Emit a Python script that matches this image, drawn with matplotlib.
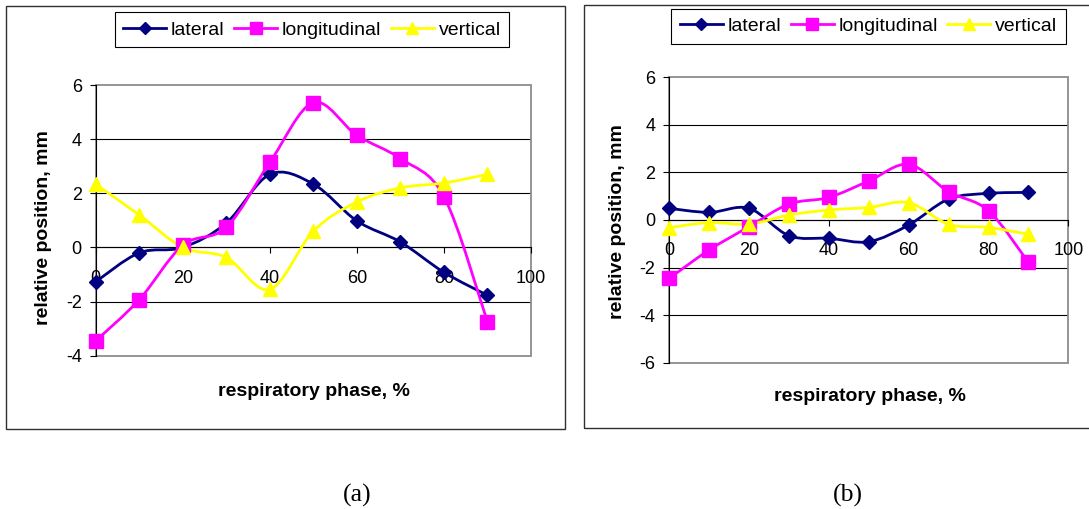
import numpy as np
import matplotlib.pyplot as plt
from matplotlib.path import Path
from matplotlib.patches import PathPatch, Rectangle
from matplotlib.lines import Line2D

plt.rcParams['font.family'] = ['Liberation Sans', 'DejaVu Sans']
plt.rcParams['axes.unicode_minus'] = False

# fases respiratorias (%)
fase = [0, 10, 20, 30, 40, 50, 60, 70, 80, 90]

# panel (a)
a_lateral = [-1.27, -0.2, 0.0, 0.9, 2.7, 2.34, 0.98, 0.2, -0.92, -1.77]
a_longitudinal = [-3.45, -1.93, 0.08, 0.74, 3.14, 5.35, 4.14, 3.28, 1.88, -2.75]
a_vertical = [2.33, 1.2, 0.0, -0.37, -1.55, 0.6, 1.68, 2.2, 2.38, 2.7]

# panel (b)
b_lateral = [0.49, 0.32, 0.49, -0.66, -0.77, -0.91, -0.21, 0.88, 1.12, 1.16]
b_longitudinal = [-2.45, -1.26, -0.28, 0.67, 0.95, 1.64, 2.34, 1.19, 0.39, -1.78]
b_vertical = [-0.32, -0.11, -0.17, 0.21, 0.42, 0.53, 0.73, -0.18, -0.31, -0.6]

nombres = ['lateral', 'longitudinal', 'vertical']
colores = ['#000080', '#FF00FF', '#FFFF00']
marcadores = ['D', 's', '^']
tam_marcador = [7.2, 10, 10]

W, H = 1089, 509


def curva_suave(x, y):
    # curva tipo Excel (Catmull-Rom pasada a Bezier)
    pts = np.column_stack([x, y]).astype(float)
    n = len(pts)
    verts = [pts[0]]
    codes = [Path.MOVETO]
    for i in range(n - 1):
        p0 = pts[i - 1] if i > 0 else pts[i]
        p1 = pts[i]
        p2 = pts[i + 1]
        p3 = pts[i + 2] if i + 2 < n else pts[i + 1]
        verts += [p1 + (p2 - p0) / 6, p2 - (p3 - p1) / 6, p2]
        codes += [Path.CURVE4] * 3
    return Path(verts, codes)


def px_rect(x0, y0, x1, y1):
    # caja en pixeles -> fraccion de figura
    return [x0 / W, 1 - y1 / H, (x1 - x0) / W, (y1 - y0) / H]


fig = plt.figure(figsize=(W / 100, H / 100), dpi=100)

# marcos exteriores de cada panel
for x0, y0, x1, y1 in [(6, 6, 565, 429), (584, 5, 1100, 428)]:
    fig.add_artist(Rectangle((x0 / W, 1 - y1 / H), (x1 - x0) / W, (y1 - y0) / H,
                             transform=fig.transFigure, fill=False,
                             edgecolor='#303030', lw=1.0))

paneles = [
    dict(caja=(95.7, 85, 531, 355.7), ylim=(-4, 6), series=[a_lateral, a_longitudinal, a_vertical],
         ley=(312, 29.7), ylab=(-0.121, 0.475), xlab=(0.501, -0.133), cap='(a)', capx=356.7),
    dict(caja=(669.3, 77.3, 1068.3, 362.7), ylim=(-6, 6), series=[b_lateral, b_longitudinal, b_vertical],
         ley=(868.5, 26.3), ylab=(-0.129, 0.494), xlab=(0.504, -0.119), cap='(b)', capx=848),
]

for p in paneles:
    ax = fig.add_axes(px_rect(*p['caja']))
    ax.set_xlim(0, 100)
    ax.set_ylim(*p['ylim'])
    ax.set_xticks(range(0, 101, 20))
    ax.set_yticks(range(p['ylim'][0], p['ylim'][1] + 1, 2))

    # lineas de rejilla negras (sin los bordes)
    for yv in range(p['ylim'][0] + 2, p['ylim'][1], 2):
        ax.axhline(yv, color='black', lw=0.8, zorder=1)

    # borde gris del area de trazado
    ax.add_patch(Rectangle((0, 0), 1, 1, transform=ax.transAxes, fill=False,
                           edgecolor='#8c8c8c', lw=1.3, clip_on=False, zorder=1))
    for s in ['top', 'right']:
        ax.spines[s].set_visible(False)
    ax.spines['bottom'].set_position(('data', 0))
    ax.spines['bottom'].set_color('black')
    ax.spines['bottom'].set_linewidth(0.8)
    ax.spines['left'].set_color('black')
    ax.spines['left'].set_linewidth(0.8)

    ax.tick_params(axis='x', direction='out', length=4, width=0.8, pad=12, labelsize=13)
    ax.tick_params(axis='y', direction='out', length=4, width=0.8, pad=6, labelsize=13)

    for serie, col, mk, ms in zip(p['series'], colores, marcadores, tam_marcador):
        ax.add_patch(PathPatch(curva_suave(fase, serie), fill=False, edgecolor=col,
                               lw=2, zorder=3, clip_on=False))
        ax.plot(fase, serie, linestyle='none', marker=mk, markersize=ms, color=col,
                markeredgecolor=col, zorder=4, clip_on=False)

    ax.text(p['ylab'][0], p['ylab'][1], 'relative position, mm', transform=ax.transAxes,
            rotation=90, ha='center', va='center', fontsize=14, fontweight='bold')
    ax.text(p['xlab'][0], p['xlab'][1], 'respiratory phase, %', transform=ax.transAxes,
            ha='center', va='center', fontsize=14, fontweight='bold')

    manejadores = [Line2D([], [], color=c, marker=m, markersize=s * 0.85, lw=2,
                          markeredgecolor=c) for c, m, s in zip(colores, marcadores, tam_marcador)]
    ley = fig.legend(manejadores, nombres, loc='center', ncol=3,
                     bbox_to_anchor=(p['ley'][0] / W, 1 - p['ley'][1] / H),
                     fontsize=14, frameon=True, fancybox=False, framealpha=1,
                     edgecolor='black', handlelength=2.2, handletextpad=0.25,
                     columnspacing=0.5, borderpad=0.45, numpoints=1,
                     borderaxespad=0)
    ley.get_frame().set_linewidth(0.8)

    fig.text(p['capx'] / W, 1 - 495 / H, p['cap'], ha='center', va='center',
             fontsize=18.5, family=['Liberation Serif', 'DejaVu Serif'])

fig.savefig('out.png', dpi=100)
